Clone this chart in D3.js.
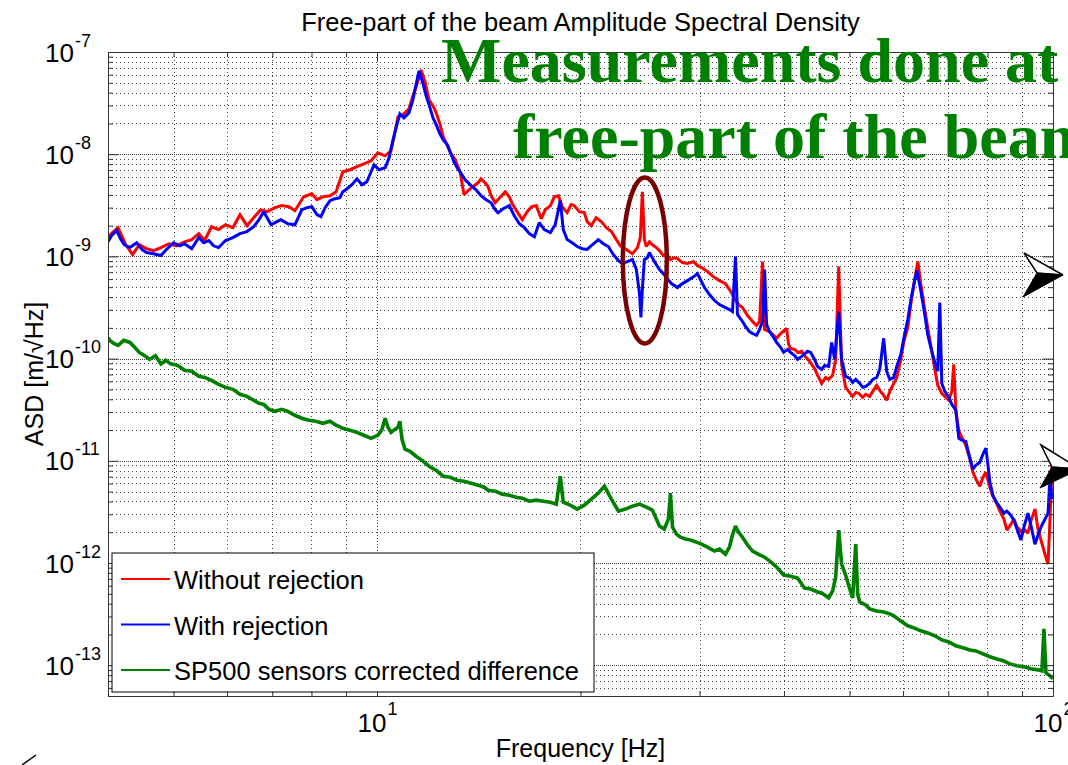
<!DOCTYPE html>
<html>
<head>
<meta charset="utf-8">
<script src="https://cdn.jsdelivr.net/npm/d3@7"></script>
<style>
  html, body { margin: 0; padding: 0; background: #fff; overflow: hidden; }
  svg { display: block; }
  text { font-family: "Liberation Sans", Arial, Helvetica, sans-serif; }
</style>
</head>
<body>
<svg id="chart" width="1068" height="765"></svg>
<script>
// ---------------------------------------------------------------
// Spectra: frequency [Hz] and amplitude spectral density [m/sqrt(Hz)]
// ---------------------------------------------------------------
const redFreq = [4.0,4.06,4.14,4.25,4.35,4.45,4.56,4.67,4.79,4.92,
  5.05,5.19,5.32,5.45,5.56,5.69,5.83,5.97,6.12,6.27,
  6.42,6.57,6.73,6.89,7.06,7.23,7.41,7.56,7.79,8.01,
  8.15,8.32,8.52,8.70,8.90,9.12,9.34,9.56,9.80,10.03,
  10.28,10.49,10.63,10.74,10.92,11.15,11.30,11.46,11.62,11.78,
  11.94,12.10,12.22,12.39,12.53,12.70,12.83,13.05,13.27,13.45,
  13.68,13.92,14.11,14.25,14.45,14.60,14.75,14.96,15.19,15.48,
  15.69,15.85,16.12,16.40,16.68,16.92,17.20,17.50,17.74,18.05,
  18.29,18.55,18.79,19.11,19.37,19.57,19.92,20.26,20.46,20.75,
  21.10,21.46,21.84,22.22,22.60,22.91,23.38,23.87,24.28,24.52,
  24.69,24.86,25.03,25.29,25.55,25.90,26.17,26.52,26.80,27.17,
  27.54,27.82,28.30,28.79,29.39,29.79,30.20,30.82,31.57,32.11,
  32.77,33.22,33.56,33.91,34.38,34.73,35.33,35.94,36.43,36.81,
  37.18,37.44,38.08,38.61,39.00,39.54,40.36,40.63,40.90,41.48,
  41.90,42.48,42.91,43.65,44.39,44.85,45.48,46.10,46.58,47.21,
  47.70,48.19,48.67,49.34,49.87,50.54,51.07,51.59,52.30,52.84,
  53.56,54.12,54.86,55.42,56.17,56.76,57.35,58.13,58.73,59.55,
  60.16,60.98,61.60,62.25,63.10,63.74,64.61,65.29,66.18,66.86,
  67.54,68.47,69.42,70.13,70.84,71.32,71.83,72.56,73.56,74.30,
  75.35,76.12,76.90,77.95,78.76,79.56,80.65,81.47,82.62,83.46,
  84.59,85.47,86.66,87.54,88.44,89.65,90.58,91.82,92.75,94.03,
  95.02,95.98,97.31,98.33,98.98,99.66];
const redAsd = [1.52e-9,1.71e-9,1.91e-9,1.30e-9,1.04e-9,1.30e-9,1.19e-9,1.14e-9,1.22e-9,1.33e-9,
  1.27e-9,1.39e-9,1.46e-9,1.67e-9,1.43e-9,1.95e-9,1.83e-9,2.04e-9,1.91e-9,2.56e-9,
  2.00e-9,2.39e-9,2.86e-9,2.74e-9,3.00e-9,3.14e-9,3.06e-9,2.80e-9,3.83e-9,4.10e-9,
  3.59e-9,3.83e-9,3.92e-9,4.29e-9,6.73e-9,7.05e-9,7.54e-9,8.06e-9,8.62e-9,1.03e-8,
  9.64e-9,1.08e-8,1.65e-8,2.32e-8,2.43e-8,2.78e-8,3.72e-8,4.87e-8,6.67e-8,5.09e-8,
  3.40e-8,2.97e-8,2.59e-8,1.98e-8,1.48e-8,1.24e-8,1.05e-8,8.83e-9,6.73e-9,4.01e-9,
  4.49e-9,4.92e-9,5.25e-9,5.75e-9,5.25e-9,4.80e-9,3.92e-9,3.35e-9,3.75e-9,4.29e-9,
  3.83e-9,3.28e-9,2.74e-9,2.29e-9,2.74e-9,3.06e-9,3.14e-9,2.34e-9,2.86e-9,3.14e-9,
  3.83e-9,3.92e-9,3.06e-9,2.68e-9,3.21e-9,3.14e-9,2.74e-9,2.68e-9,2.19e-9,2.00e-9,
  2.39e-9,2.19e-9,1.91e-9,1.75e-9,1.46e-9,1.27e-9,1.17e-9,1.06e-9,1.22e-9,1.53e-9,
  4.29e-9,1.46e-9,1.25e-9,1.39e-9,1.30e-9,1.22e-9,1.14e-9,1.02e-9,1.06e-9,9.32e-10,
  9.73e-10,9.50e-10,8.70e-10,8.51e-10,8.91e-10,8.13e-10,7.78e-10,7.11e-10,6.21e-10,5.80e-10,
  5.42e-10,4.74e-10,4.24e-10,3.70e-10,3.31e-10,3.16e-10,2.64e-10,2.31e-10,2.11e-10,2.31e-10,
  8.91e-10,1.93e-10,1.84e-10,1.69e-10,1.58e-10,1.76e-10,1.97e-10,1.38e-10,1.26e-10,1.23e-10,
  1.15e-10,1.18e-10,1.07e-10,9.39e-11,8.02e-11,6.86e-11,5.72e-11,6.54e-11,6.26e-11,6.86e-11,
  9.83e-11,7.94e-10,8.77e-11,5.24e-11,4.78e-11,4.27e-11,4.67e-11,4.58e-11,4.18e-11,4.48e-11,
  4.27e-11,4.78e-11,5.47e-11,4.89e-11,4.37e-11,3.91e-11,4.78e-11,5.72e-11,6.54e-11,9.83e-11,
  1.47e-10,2.02e-10,3.38e-10,5.31e-10,8.91e-10,5.42e-10,3.02e-10,1.97e-10,1.18e-10,7.85e-11,
  5.47e-11,4.58e-11,4.18e-11,3.91e-11,4.78e-11,8.77e-11,3.05e-11,1.95e-11,1.62e-11,1.42e-11,
  1.04e-11,7.74e-12,6.61e-12,5.65e-12,6.91e-12,7.74e-12,5.52e-12,4.51e-12,3.77e-12,3.22e-12,
  2.69e-12,2.10e-12,2.40e-12,2.69e-12,2.25e-12,2.05e-12,2.15e-12,1.96e-12,2.57e-12,3.37e-12,
  2.15e-12,1.68e-12,1.22e-12,9.78e-13,2.69e-12,9.06e-12];

const blueFreq = [4.0,4.05,4.12,4.18,4.23,4.31,4.41,4.49,4.56,4.67,
  4.79,4.88,5.00,5.11,5.19,5.32,5.45,5.54,5.64,5.73,
  5.83,5.97,6.12,6.27,6.42,6.57,6.69,6.80,6.97,7.11,
  7.21,7.38,7.56,7.74,7.88,8.01,8.15,8.26,8.38,8.52,
  8.67,8.81,8.90,9.03,9.18,9.34,9.50,9.66,9.80,9.90,
  10.07,10.28,10.42,10.52,10.67,10.81,10.96,11.15,11.30,11.42,
  11.54,11.70,11.82,11.98,12.10,12.22,12.39,12.53,12.70,12.83,
  13.00,13.14,13.27,13.50,13.78,14.01,14.25,14.50,14.75,14.96,
  15.11,15.37,15.69,15.96,16.24,16.52,16.80,17.09,17.38,17.68,
  18.05,18.35,18.67,18.86,19.11,19.44,19.78,20.12,20.46,20.82,
  21.25,21.62,21.99,22.37,22.76,23.07,23.46,23.87,24.19,24.45,
  24.57,24.69,24.86,25.12,25.29,25.72,26.17,26.52,26.80,27.26,
  27.82,28.30,28.79,29.28,29.79,30.20,30.51,31.03,31.57,32.11,
  32.77,33.22,33.56,33.91,34.14,34.73,35.09,35.56,35.94,36.43,
  36.81,37.18,37.44,37.70,38.08,38.61,39.00,39.54,39.95,40.49,
  40.90,41.48,41.90,42.62,43.35,43.80,44.39,44.85,45.48,45.94,
  46.58,47.05,47.54,48.19,48.67,49.34,50.04,50.54,51.07,51.77,
  52.30,52.84,53.56,54.12,54.86,55.42,56.17,56.76,57.35,58.13,
  58.73,59.55,60.16,60.98,61.60,62.25,62.89,63.74,64.61,65.29,
  66.18,66.86,67.54,68.01,68.47,69.18,70.13,70.84,71.83,72.56,
  73.31,74.30,75.09,76.12,76.90,77.95,78.76,79.56,80.10,80.65,
  81.47,82.62,83.46,84.59,85.47,86.34,87.54,88.44,89.65,90.58,
  91.82,92.75,94.03,95.02,95.98,97.31,98.33,98.98,99.66];
const blueAsd = [1.39e-9,1.60e-9,1.79e-9,1.46e-9,1.30e-9,1.22e-9,1.36e-9,1.17e-9,1.09e-9,1.06e-9,
  1.02e-9,1.17e-9,1.36e-9,1.27e-9,1.33e-9,1.19e-9,1.53e-9,1.36e-9,1.43e-9,1.27e-9,
  1.22e-9,1.43e-9,1.53e-9,1.67e-9,1.75e-9,1.95e-9,2.29e-9,2.74e-9,2.04e-9,2.19e-9,
  2.29e-9,2.09e-9,2.04e-9,2.86e-9,3.00e-9,3.06e-9,2.56e-9,2.45e-9,3.00e-9,3.51e-9,
  3.67e-9,3.75e-9,4.29e-9,4.59e-9,5.03e-9,5.75e-9,5.03e-9,5.38e-9,6.73e-9,7.87e-9,
  7.05e-9,7.37e-9,9.22e-9,1.24e-8,1.81e-8,2.48e-8,2.27e-8,2.54e-8,3.40e-8,4.76e-8,
  6.53e-8,4.87e-8,3.72e-8,2.84e-8,2.27e-8,1.98e-8,1.58e-8,1.38e-8,1.24e-8,1.05e-8,
  8.43e-9,7.37e-9,6.73e-9,5.62e-9,4.92e-9,4.49e-9,3.92e-9,3.59e-9,3.35e-9,2.86e-9,
  2.68e-9,2.93e-9,3.14e-9,2.50e-9,2.09e-9,1.91e-9,1.67e-9,1.56e-9,2.14e-9,1.83e-9,
  1.71e-9,2.04e-9,3.51e-9,1.83e-9,1.46e-9,1.36e-9,1.25e-9,1.19e-9,1.17e-9,1.30e-9,
  1.46e-9,1.33e-9,1.25e-9,1.04e-9,9.10e-10,8.51e-10,8.91e-10,9.32e-10,7.44e-10,4.33e-10,
  2.53e-10,4.74e-10,9.32e-10,9.73e-10,1.09e-9,8.91e-10,7.44e-10,6.79e-10,6.21e-10,5.42e-10,
  4.96e-10,5.42e-10,5.80e-10,6.21e-10,6.79e-10,5.67e-10,4.96e-10,4.24e-10,3.70e-10,3.38e-10,
  3.16e-10,3.02e-10,2.89e-10,9.95e-10,2.70e-10,2.31e-10,2.06e-10,1.84e-10,1.76e-10,1.69e-10,
  1.93e-10,2.31e-10,7.44e-10,2.16e-10,1.84e-10,1.61e-10,1.44e-10,1.29e-10,1.15e-10,1.23e-10,
  1.15e-10,1.07e-10,9.83e-11,1.07e-10,1.18e-10,1.15e-10,9.83e-11,8.39e-11,7.85e-11,8.59e-11,
  8.39e-11,1.44e-10,9.83e-11,2.89e-10,9.83e-11,6.71e-11,6.40e-11,5.85e-11,6.26e-11,5.72e-11,
  5.24e-11,5.35e-11,5.72e-11,6.26e-11,6.54e-11,7.85e-11,1.58e-10,7.51e-11,6.26e-11,6.54e-11,
  8.39e-11,1.10e-10,1.58e-10,2.41e-10,3.70e-10,5.31e-10,7.27e-10,4.64e-10,2.70e-10,1.69e-10,
  1.18e-10,9.18e-11,7.51e-11,3.54e-10,5.72e-11,4.78e-11,4.18e-11,3.57e-11,3.12e-11,1.66e-11,
  1.59e-11,1.55e-11,1.16e-11,8.28e-12,9.06e-12,9.68e-12,1.16e-11,1.33e-11,9.27e-12,6.18e-12,
  4.61e-12,3.85e-12,3.52e-12,3.08e-12,3.22e-12,3.01e-12,2.63e-12,2.15e-12,1.68e-12,2.25e-12,
  3.08e-12,2.35e-12,1.53e-12,1.88e-12,2.25e-12,2.69e-12,3.08e-12,7.07e-12,4.22e-12];

const greenFreq = [4.0,4.02,4.08,4.14,4.22,4.31,4.38,4.45,4.53,4.61,
  4.70,4.79,4.87,4.95,5.07,5.19,5.32,5.45,5.56,5.69,
  5.83,5.97,6.12,6.27,6.42,6.57,6.69,6.80,6.92,7.06,
  7.23,7.38,7.56,7.74,7.93,8.12,8.32,8.52,8.70,8.90,
  9.12,9.34,9.56,9.80,10.03,10.17,10.28,10.38,10.49,10.63,
  10.74,10.81,10.89,11.00,11.19,11.42,11.66,11.94,12.22,12.53,
  12.83,13.14,13.45,13.78,14.11,14.40,14.60,14.96,15.32,15.69,
  16.07,16.40,16.80,17.20,17.62,18.05,18.42,18.67,18.86,19.31,
  19.78,20.26,20.75,21.25,21.70,22.22,22.76,23.30,23.87,24.44,
  25.03,25.55,26.17,26.61,26.98,27.17,27.36,27.73,28.11,28.60,
  29.09,29.68,30.20,30.82,31.57,32.11,32.77,33.22,33.56,33.91,
  34.26,34.73,35.33,35.94,36.81,37.44,38.08,39.00,39.95,40.77,
  41.90,42.48,42.91,43.80,44.85,45.48,46.58,47.21,47.70,48.19,
  48.67,49.34,50.04,50.54,51.07,51.41,51.77,52.84,53.56,54.86,
  56.17,57.35,58.13,59.55,60.98,62.25,63.74,65.29,66.86,68.47,
  70.13,71.83,73.56,75.35,76.90,78.76,80.65,82.62,84.59,86.36,
  88.44,90.58,92.75,95.02,96.30,96.96,97.64,98.98,100];
const greenAsd = [1.61e-10,1.51e-10,1.41e-10,1.35e-10,1.51e-10,1.44e-10,1.29e-10,1.15e-10,1.07e-10,9.83e-11,
  1.07e-10,8.89e-11,9.62e-11,8.89e-11,8.59e-11,7.68e-11,7.51e-11,6.71e-11,6.54e-11,6.13e-11,
  5.60e-11,5.24e-11,5.00e-11,4.48e-11,4.27e-11,3.91e-11,3.65e-11,3.57e-11,3.19e-11,3.05e-11,
  3.19e-11,3.05e-11,2.79e-11,2.61e-11,2.49e-11,2.44e-11,2.33e-11,2.44e-11,2.23e-11,2.08e-11,
  1.99e-11,1.90e-11,1.78e-11,1.66e-11,1.78e-11,2.03e-11,2.61e-11,2.13e-11,1.90e-11,2.03e-11,
  2.13e-11,2.44e-11,1.62e-11,1.30e-11,1.24e-11,1.11e-11,1.01e-11,8.86e-12,8.10e-12,7.07e-12,
  6.91e-12,6.46e-12,6.32e-12,6.04e-12,5.78e-12,5.52e-12,5.16e-12,5.05e-12,4.72e-12,4.61e-12,
  4.41e-12,4.31e-12,4.03e-12,4.12e-12,4.03e-12,3.94e-12,3.77e-12,7.07e-12,3.94e-12,3.68e-12,
  3.37e-12,3.68e-12,4.22e-12,4.83e-12,5.65e-12,4.22e-12,3.22e-12,3.37e-12,3.60e-12,3.77e-12,
  3.52e-12,3.30e-12,2.30e-12,2.15e-12,2.69e-12,4.83e-12,2.25e-12,1.92e-12,1.79e-12,1.72e-12,
  1.68e-12,1.60e-12,1.53e-12,1.43e-12,1.31e-12,1.37e-12,1.22e-12,1.43e-12,1.88e-12,2.30e-12,
  2.01e-12,1.79e-12,1.50e-12,1.31e-12,1.20e-12,1.14e-12,1.05e-12,9.14e-13,7.63e-13,7.46e-13,
  7.13e-13,6.23e-13,5.70e-13,5.57e-13,5.21e-13,5.09e-13,4.55e-13,5.33e-13,7.30e-13,2.10e-12,
  9.78e-13,7.63e-13,5.57e-13,4.55e-13,1.53e-12,4.98e-13,4.16e-13,3.89e-13,3.55e-13,3.40e-13,
  3.32e-13,3.18e-13,3.04e-13,2.71e-13,2.43e-13,2.32e-13,2.17e-13,2.07e-13,1.94e-13,1.77e-13,
  1.69e-13,1.55e-13,1.48e-13,1.41e-13,1.38e-13,1.29e-13,1.21e-13,1.15e-13,1.10e-13,1.03e-13,
  9.87e-14,9.65e-14,9.22e-14,9.01e-14,8.81e-14,2.27e-13,8.43e-14,7.87e-14,7.37e-14];

const seriesNames = ["Without rejection", "With rejection", "SP500 sensors corrected difference"];
const seriesColors = ["#ff0000", "#0000ff", "#008000"];

// axis limits and the decade tick exponents that get labels
const freqDomain = [4, 100];
const asdDomain = [5e-14, 1e-7];
const xLabelExps = [1, 2];
const yLabelExps = [-13, -12, -11, -10, -9, -8, -7];

// highlighted feature near 25 Hz (centre of the circled region)
const highlightFreq = 24.9;
const highlightAsd = 9.1e-10;

const titleText = "Free-part of the beam Amplitude Spectral Density";
const xTitle = "Frequency [Hz]";
const yTitle = "ASD [m/\u221AHz]";
const noteLines = ["Measurements done at", "free-part of the beam"];

// ---------------------------------------------------------------
const svg = d3.select("#chart");
const L = 108, R = 1053, T = 52, B = 696;

const x = d3.scaleLog().domain(freqDomain).range([L, R]);
const y = d3.scaleLog().domain(asdDomain).range([B, T]);

const isDecade = v => Math.abs(Math.log10(v) - Math.round(Math.log10(v))) < 1e-9;
const xAll = x.ticks();
const yAll = y.ticks();
const xMajor = xLabelExps.map(e => Math.pow(10, e));
const yMajor = yLabelExps.map(e => Math.pow(10, e));
const xMinor = xAll.filter(v => !isDecade(v));
const yMinor = yAll.filter(v => !isDecade(v));

svg.append("rect").attr("width", 1068).attr("height", 765).attr("fill", "#fff");

// --- dotted grid ---
const grid = svg.append("g").attr("stroke", "#111").attr("stroke-width", 1).attr("fill", "none");
xAll.filter(v => v > freqDomain[0] && v < freqDomain[1]).forEach(v => {
  const px = Math.round(x(v)) + 0.5;
  grid.append("line").attr("x1", px).attr("x2", px).attr("y1", T).attr("y2", B)
    .attr("stroke-dasharray", isDecade(v) ? "1,2" : "1,3").attr("opacity", 0.8);
});
yAll.filter(v => v > asdDomain[0] && v < asdDomain[1]).forEach(v => {
  const py = Math.round(y(v)) + 0.5;
  grid.append("line").attr("x1", L).attr("x2", R).attr("y1", py).attr("y2", py)
    .attr("stroke-dasharray", isDecade(v) ? "1,1" : "1,3").attr("opacity", 0.8);
});

// --- spectra ---
svg.append("clipPath").attr("id", "plotClip")
  .append("rect").attr("x", L).attr("y", T).attr("width", R - L).attr("height", B - T);

const line = d3.line().x(d => x(d[0])).y(d => y(d[1]));
const series = [d3.zip(redFreq, redAsd), d3.zip(blueFreq, blueAsd), d3.zip(greenFreq, greenAsd)];
const plot = svg.append("g").attr("clip-path", "url(#plotClip)");
series.forEach((s, i) => {
  plot.append("path").datum(s).attr("d", line)
    .attr("fill", "none").attr("stroke", seriesColors[i])
    .attr("stroke-width", i === 2 ? 3.6 : 3)
    .attr("stroke-linejoin", "miter").attr("stroke-miterlimit", 2);
});

// --- axes box with inward ticks on all four sides ---
function addAxis(gen, scale, tr, values, len) {
  const g = svg.append("g").attr("transform", tr)
    .call(gen(scale).tickValues(values).tickSize(-len).tickSizeOuter(0).tickFormat(() => ""));
  g.selectAll("path, line").attr("stroke", "#333").attr("stroke-width", 1);
  g.selectAll(".tick text").remove();
  return g;
}
const bottomMajor = addAxis(d3.axisBottom, x, `translate(0,${B})`, xMajor, 10);
addAxis(d3.axisBottom, x, `translate(0,${B})`, xMinor, 5);
addAxis(d3.axisTop, x, `translate(0,${T})`, xMajor, 10);
addAxis(d3.axisTop, x, `translate(0,${T})`, xMinor, 5);
const leftMajor = addAxis(d3.axisLeft, y, `translate(${L},0)`, yMajor, 10);
addAxis(d3.axisLeft, y, `translate(${L},0)`, yMinor, 5);
addAxis(d3.axisRight, y, `translate(${R},0)`, yMajor, 10);
addAxis(d3.axisRight, y, `translate(${R},0)`, yMinor, 5);

// tick labels as 10 with a raised exponent
leftMajor.selectAll(".tick").each(function (d) {
  const e = Math.round(Math.log10(d));
  const t = d3.select(this);
  t.append("text").attr("x", -34).attr("y", 9).attr("text-anchor", "end")
    .attr("font-size", 26).attr("fill", "#000").text("10");
  t.append("text").attr("x", -33).attr("y", -6).attr("text-anchor", "start")
    .attr("font-size", 18).attr("fill", "#000").text(e);
});
bottomMajor.selectAll(".tick").each(function (d) {
  const e = Math.round(Math.log10(d));
  const t = d3.select(this);
  t.append("text").attr("x", -20).attr("y", 36).attr("text-anchor", "start")
    .attr("font-size", 26).attr("fill", "#000").text("10");
  t.append("text").attr("x", 10).attr("y", 19).attr("text-anchor", "start")
    .attr("font-size", 18).attr("fill", "#000").text(e);
});

// --- titles ---
svg.append("text").attr("x", (L + R) / 2).attr("y", 31).attr("text-anchor", "middle")
  .attr("font-size", 25.5).attr("fill", "#000").text(titleText);
svg.append("text").attr("x", (L + R) / 2).attr("y", 757).attr("text-anchor", "middle")
  .attr("font-size", 25).attr("fill", "#000").text(xTitle);
svg.append("text").attr("transform", `translate(43,${(T + B) / 2}) rotate(-90)`)
  .attr("text-anchor", "middle").attr("font-size", 25).attr("fill", "#000").text(yTitle);

// --- legend ---
const lg = svg.append("g").attr("transform", "translate(112,553)");
lg.append("rect").attr("width", 482).attr("height", 139)
  .attr("fill", "#fff").attr("stroke", "#000").attr("stroke-width", 1);
seriesNames.forEach((name, i) => {
  const ly = 26 + i * 45.5;
  lg.append("line").attr("x1", 9).attr("x2", 58).attr("y1", ly).attr("y2", ly)
    .attr("stroke", seriesColors[i]).attr("stroke-width", 2);
  lg.append("text").attr("x", 62).attr("y", ly + 10).attr("font-size", 25.5)
    .attr("fill", "#000").text(name);
});

// --- circled feature ---
svg.append("ellipse").attr("cx", x(highlightFreq)).attr("cy", y(highlightAsd))
  .attr("rx", 22).attr("ry", 83).attr("fill", "none")
  .attr("stroke", "#7a0000").attr("stroke-width", 4.5);

// --- green note ---
const serif = '"Liberation Serif", "Times New Roman", serif';
const note = svg.append("g").attr("fill", "#008000")
  .attr("font-weight", "bold").attr("font-size", 64);
note.append("text").attr("x", 441).attr("y", 82).style("font-family", serif).text(noteLines[0]);
note.append("text").attr("x", 513).attr("y", 158).style("font-family", serif).text(noteLines[1]);

// --- pointer arrowheads at the right margin ---
function arrowHead(wingTop, tip, notch, wingBottom) {
  svg.append("polygon").attr("points", [wingTop, tip, notch].map(p => p.join(",")).join(" "))
    .attr("fill", "#fff").attr("stroke", "#000").attr("stroke-width", 1.5).attr("stroke-linejoin", "miter");
  svg.append("polygon").attr("points", [notch, tip, wingBottom].map(p => p.join(",")).join(" "))
    .attr("fill", "#000").attr("stroke", "#000").attr("stroke-width", 1);
}
arrowHead([1024, 253], [1063, 275], [1037, 273], [1023, 297]);
arrowHead([1041, 445], [1080, 469], [1052, 467], [1040, 488]);
svg.append("path").attr("d", "M22,765 L36,755").attr("stroke", "#000").attr("stroke-width", 1.5).attr("fill", "none");
</script>
</body>
</html>
